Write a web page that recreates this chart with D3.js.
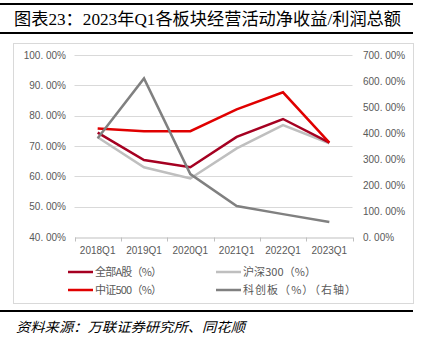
<!DOCTYPE html>
<html><head><meta charset="utf-8">
<script src="https://cdn.jsdelivr.net/npm/d3@7"></script>
<style>body{margin:0;background:#fff}svg{display:block}</style>
</head><body>
<svg id="c" width="424" height="347"></svg>
<script>
const categories = ["2018Q1","2019Q1","2020Q1","2021Q1","2022Q1","2023Q1"];
const allA = [74.4, 65.4, 63.0, 73.0, 78.9, 71.1];
const hs300 = [72.9, 63.0, 59.3, 69.2, 76.9, 70.9];
const zz500 = [75.8, 74.9, 74.9, 82.1, 87.7, 71.1];
const kcb = [380, 610, 242, 119, 88, 58];
const leftTicks = [40,50,60,70,80,90,100];
const rightTicks = [0,100,200,300,400,500,600,700];
const seriesNames = ["全部A股（%）","沪深300（%）","中证500（%）","科创板（%）（右轴）"];

const svg = d3.select("#c");
const cjk = "'Liberation Serif','Noto Sans CJK SC',serif";
const sans = "'Liberation Sans','Noto Sans CJK SC',sans-serif";

// top rules & title
svg.append("rect").attr("x",0).attr("y",3).attr("width",413).attr("height",2).attr("fill","#000");
svg.append("text").attr("x",14).attr("y",25).attr("font-family",cjk).attr("font-size",17).attr("fill","#000")
  .attr("textLength",387).attr("lengthAdjust","spacingAndGlyphs")
  .text("图表23：2023年Q1各板块经营活动净收益/利润总额");
svg.append("rect").attr("x",0).attr("y",32).attr("width",413).attr("height",2).attr("fill","#000");

// chart border
svg.append("rect").attr("x",13.5).attr("y",43.5).attr("width",400).attr("height",260).attr("fill","none").attr("stroke","#d9d9d9");

const x = d3.scaleBand().domain(categories).range([74.5,352.5]);
const yL = d3.scaleLinear().domain([40,100]).range([237,55]);
const yR = d3.scaleLinear().domain([0,700]).range([237,55]);

// grid
svg.append("g").selectAll("line").data(leftTicks.slice(1)).join("line")
  .attr("x1",74.5).attr("x2",352.5).attr("y1",d=>Math.round(yL(d))+0.5).attr("y2",d=>Math.round(yL(d))+0.5)
  .attr("stroke","#d9d9d9").attr("stroke-width",1);

// x axis
const xa = svg.append("g").attr("transform","translate(0,237.5)")
  .call(d3.axisBottom(x).tickSize(0).tickPadding(9));
xa.select(".domain").attr("stroke","#bfbfbf");
xa.selectAll("text").attr("font-family",sans).attr("font-size",10).attr("fill","#595959");
const bounds = categories.map(c=>x(c)).concat([x.range()[1]]);
svg.append("g").selectAll("line").data(bounds).join("line")
  .attr("x1",d=>Math.round(d)+0.5).attr("x2",d=>Math.round(d)+0.5).attr("y1",237.5).attr("y2",241.5)
  .attr("stroke","#bfbfbf");

// left axis
const ya = svg.append("g").attr("transform","translate(66,0)")
  .call(d3.axisLeft(yL).tickValues(leftTicks).tickSize(0).tickPadding(0).tickFormat(d=>d3.format(".2f")(d).replace(".",". ")+"%"));
ya.select(".domain").remove();
ya.selectAll("text").attr("font-family",sans).attr("font-size",10).attr("fill","#595959");

const yra = svg.append("g").attr("transform","translate(363,0)")
  .call(d3.axisRight(yR).tickValues(rightTicks).tickSize(0).tickPadding(0).tickFormat(d=>d3.format(".2f")(d).replace(".",". ")+"%"));
yra.select(".domain").remove();
yra.selectAll("text").attr("font-family",sans).attr("font-size",10).attr("fill","#595959");

const cx = c => x(c) + x.bandwidth()/2;
const lineL = d3.line().x((d,i)=>cx(categories[i])).y(d=>yL(d));
const lineR = d3.line().x((d,i)=>cx(categories[i])).y(d=>yR(d));

const colors = ["#a50021","#bfbfbf","#e00000","#808080"];
svg.append("path").attr("d",lineL(hs300)).attr("fill","none").attr("stroke",colors[1]).attr("stroke-width",2.5);
svg.append("path").attr("d",lineL(allA)).attr("fill","none").attr("stroke",colors[0]).attr("stroke-width",2.5);
svg.append("path").attr("d",lineL(zz500)).attr("fill","none").attr("stroke",colors[2]).attr("stroke-width",2.5);
svg.append("path").attr("d",lineR(kcb)).attr("fill","none").attr("stroke",colors[3]).attr("stroke-width",2.5);

// legend
const leg = [
  {n:seriesNames[0],c:colors[0],x:68,y:272,w:67},
  {n:seriesNames[1],c:colors[1],x:216,y:272,w:73},
  {n:seriesNames[2],c:colors[2],x:68,y:290,w:67},
  {n:seriesNames[3],c:colors[3],x:216,y:290,w:113}
];
const lg = svg.append("g").selectAll("g").data(leg).join("g");
lg.append("line").attr("x1",d=>d.x).attr("x2",d=>d.x+25).attr("y1",d=>d.y).attr("y2",d=>d.y)
  .attr("stroke",d=>d.c).attr("stroke-width",2.5);
lg.append("text").attr("x",d=>d.x+27).attr("y",d=>d.y+4).attr("font-family","'Noto Sans CJK SC',sans-serif")
  .attr("font-size",11).attr("fill","#595959").attr("textLength",d=>d.w).attr("lengthAdjust","spacing").text(d=>d.n);

// bottom rule & source
svg.append("rect").attr("x",0).attr("y",310).attr("width",413).attr("height",2).attr("fill","#000");
svg.append("text").attr("x",16).attr("y",332).attr("font-family","'Noto Sans CJK SC',sans-serif").attr("font-style","italic")
  .attr("font-size",13.5).attr("fill","#000").attr("textLength",229).attr("lengthAdjust","spacingAndGlyphs").text("资料来源：万联证券研究所、同花顺");
</script>
</body></html>
